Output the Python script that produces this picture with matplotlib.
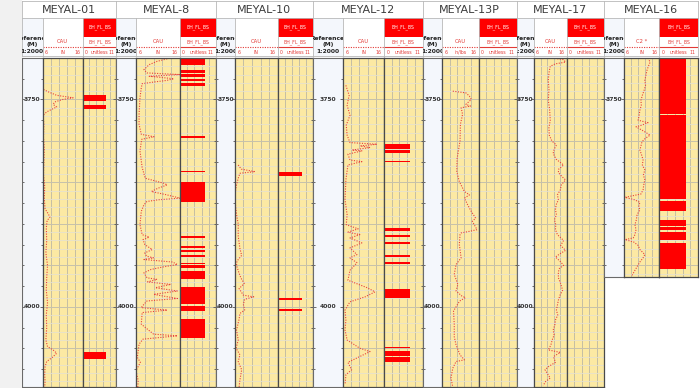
import numpy as np
import matplotlib.pyplot as plt
from matplotlib.patches import Rectangle
from matplotlib.ticker import MultipleLocator

# ---- data (depth m, caliper in) ----
wells = ['MEYAL-01', 'MEYAL-8', 'MEYAL-10', 'MEYAL-12', 'MEYAL-13P', 'MEYAL-17', 'MEYAL-16']
cau_names = ['CAU', 'CAU', 'CAU', 'CAU', 'CAU', 'CAU', 'C2 *']
cau_units = ['IN', 'IN', 'IN', 'IN', 'in/lbs', 'IN', 'IN']
well_bottom = [4097, 4097, 4097, 4097, 4097, 4097, 3964]
depth_labels = [3750, 4000]

m01_cau = [(3738, 6.2), (3741, 7.5), (3745, 9.5), (3748, 13.6), (3750, 11.0), (3753, 9.0),
           (3756, 8.6), (3759, 9.5), (3762, 8.2), (3765, 7.0), (3769, 6.1), (3780, 6.3),
           (3795, 6.2), (3810, 6.4), (3825, 6.3), (3840, 6.2), (3855, 6.5), (3870, 6.4),
           (3882, 6.6), (3888, 7.4), (3892, 7.8), (3896, 7.1), (3905, 6.9), (3920, 7.0),
           (3935, 6.8), (3950, 7.2), (3965, 7.0), (3980, 6.9), (3995, 7.2), (4010, 6.9),
           (4025, 7.0), (4040, 6.8), (4048, 7.2), (4052, 8.6), (4056, 9.5), (4061, 8.4),
           (4066, 7.0), (4072, 6.6), (4082, 6.5), (4090, 6.6), (4097, 6.5)]

m8_cau = [(3701, 13.1), (3704, 10.8), (3708, 9.0), (3714, 7.8), (3718, 8.5), (3720, 16.0),
          (3722, 9.0), (3725, 14.6), (3727, 13.0), (3729, 10.0), (3731, 7.4), (3736, 7.2),
          (3748, 6.9), (3768, 6.7), (3780, 6.7), (3792, 7.2), (3795, 10.1), (3798, 7.3),
          (3812, 6.9), (3832, 7.4), (3845, 8.1), (3851, 12.3), (3853, 13.1), (3857, 11.0),
          (3861, 9.5), (3865, 13.0), (3869, 16.0), (3871, 11.0), (3873, 8.5), (3877, 7.8),
          (3885, 7.2), (3901, 6.9), (3913, 7.4), (3916, 9.0), (3919, 7.6), (3925, 8.0),
          (3931, 9.7), (3935, 8.0), (3939, 8.4), (3941, 10.0), (3943, 7.8), (3946, 14.3),
          (3949, 15.4), (3952, 12.1), (3955, 9.4), (3959, 7.8), (3965, 8.5), (3967, 10.8),
          (3970, 8.6), (3973, 13.9), (3977, 10.4), (3981, 15.4), (3985, 10.0), (3990, 15.4),
          (3993, 8.5), (3997, 7.8), (4001, 7.2), (4004, 13.1), (4007, 7.4), (4021, 7.2),
          (4033, 10.0), (4035, 15.4), (4039, 7.6), (4045, 6.7), (4061, 6.3), (4067, 7.0),
          (4077, 6.0), (4089, 6.5), (4097, 6.4)]

m10_cau = [(3829, 6.8), (3834, 7.5), (3837, 10.7), (3839, 7.2), (3845, 6.8), (3853, 6.4),
           (3865, 6.0), (3880, 6.2), (3892, 6.5), (3900, 6.8), (3915, 6.8), (3930, 7.2),
           (3938, 7.6), (3945, 6.5), (3950, 6.4), (3958, 6.9), (3965, 7.4), (3972, 8.2),
           (3978, 7.0), (3986, 8.0), (3988, 10.4), (3991, 8.3), (3997, 8.0), (4004, 8.3),
           (4008, 7.2), (4015, 7.0), (4028, 6.4), (4040, 6.8), (4050, 6.3), (4058, 7.2),
           (4066, 6.8), (4076, 7.6), (4088, 7.2), (4097, 7.0)]

m12_cau = [(3733, 6.7), (3745, 7.5), (3757, 7.0), (3769, 7.7), (3781, 6.8), (3793, 7.0),
           (3802, 7.7), (3804, 14.3), (3806, 10.2), (3808, 12.6), (3811, 8.2), (3812, 10.6),
           (3816, 7.2), (3823, 7.7), (3825, 10.6), (3829, 7.2), (3847, 6.7), (3871, 6.5),
           (3889, 7.0), (3901, 6.8), (3906, 9.7), (3910, 7.2), (3913, 10.1), (3917, 7.7),
           (3923, 10.6), (3929, 7.7), (3937, 9.4), (3941, 7.7), (3947, 9.4), (3956, 7.7),
           (3968, 7.2), (3977, 11.9), (3982, 13.8), (3988, 11.4), (3994, 7.7), (4004, 6.5),
           (4016, 6.7), (4028, 6.5), (4040, 7.0), (4050, 10.1), (4054, 12.6), (4060, 10.1),
           (4067, 7.2), (4076, 8.1), (4082, 6.7), (4094, 6.5)]

m13p_cau = [(3740, 8.9), (3742, 12.5), (3746, 13.5), (3750, 14.0), (3756, 12.5), (3758, 13.8),
            (3760, 11.2), (3768, 11.6), (3780, 11.0), (3800, 10.9), (3821, 10.1), (3837, 10.0),
            (3849, 10.7), (3861, 12.1), (3865, 13.5), (3869, 12.1), (3877, 13.0), (3885, 14.0),
            (3893, 15.2), (3897, 14.3), (3907, 15.6), (3909, 13.5), (3911, 11.2), (3913, 10.9),
            (3925, 10.7), (3941, 11.2), (3949, 9.8), (3961, 9.3), (3973, 10.3), (3981, 9.8),
            (3987, 11.4), (3989, 12.4), (3993, 10.8), (4005, 9.1), (4021, 9.3), (4036, 9.3),
            (4046, 9.8), (4058, 10.9), (4064, 12.1), (4066, 9.8), (4074, 8.9), (4086, 8.4),
            (4097, 8.9)]

m17_cau = [(3700, 11.6), (3702, 15.1), (3705, 15.7), (3707, 12.6), (3710, 11.0), (3718, 10.6),
           (3727, 10.4), (3738, 10.6), (3751, 10.4), (3762, 10.8), (3775, 11.0), (3784, 10.6),
           (3793, 10.7), (3800, 11.5), (3805, 12.9), (3810, 12.2), (3815, 11.9), (3822, 12.8),
           (3829, 15.1), (3834, 13.6), (3838, 13.5), (3843, 14.6), (3847, 15.7), (3853, 14.4),
           (3859, 14.1), (3865, 13.2), (3871, 13.5), (3877, 12.8), (3883, 12.6), (3889, 12.9),
           (3895, 12.3), (3901, 12.7), (3907, 12.6), (3913, 13.2), (3920, 15.1), (3926, 14.2),
           (3932, 15.7), (3936, 14.0), (3940, 12.6), (3945, 14.0), (3950, 15.1), (3954, 13.8),
           (3958, 13.5), (3965, 13.5), (3972, 14.2), (3980, 14.8), (3986, 14.0), (3992, 13.5),
           (3998, 13.2), (4004, 12.9), (4010, 13.3), (4016, 12.6), (4022, 12.4), (4028, 11.9),
           (4034, 12.2), (4040, 11.6), (4046, 11.2), (4052, 10.4), (4055, 14.1), (4060, 12.0),
           (4067, 12.6), (4072, 10.5), (4076, 9.4), (4081, 10.2), (4086, 11.0), (4090, 9.6),
           (4095, 8.8)]

m16_cau = [(3700, 12.8), (3705, 13.4), (3710, 12.9), (3715, 12.5), (3721, 12.2), (3727, 11.9),
           (3733, 12.1), (3739, 11.7), (3745, 11.2), (3751, 10.8), (3757, 10.9), (3763, 10.5),
           (3769, 10.3), (3775, 10.0), (3778, 12.8), (3781, 11.0), (3783, 9.4), (3788, 11.5),
           (3793, 13.4), (3797, 12.0), (3801, 11.1), (3806, 10.8), (3811, 10.5), (3817, 11.0),
           (3823, 11.4), (3829, 11.2), (3835, 11.9), (3841, 11.5), (3847, 11.9), (3853, 11.6),
           (3859, 11.4), (3864, 10.8), (3868, 6.3), (3871, 9.0), (3874, 10.5), (3879, 10.2),
           (3883, 10.5), (3889, 9.7), (3895, 9.5), (3901, 9.1), (3907, 9.4), (3913, 9.1),
           (3917, 8.6), (3919, 6.3), (3922, 8.8), (3926, 10.0), (3931, 10.5), (3937, 11.9),
           (3941, 11.4), (3946, 10.5), (3951, 9.8), (3956, 9.1), (3962, 8.3)]

# BH_FL_BS flagged intervals (top, base)
m01_bh = [(3745, 3752), (3757, 3761), (4054, 4063)]
m8_bh = [(3700, 3708), (3715, 3718), (3719, 3723), (3725, 3728), (3730, 3734), (3794, 3796),
         (3836, 3838), (3849, 3874), (3915, 3917), (3927, 3929), (3931, 3934), (3937, 3940),
         (3947, 3949), (3950, 3953), (3957, 3967), (3976, 3997), (3999, 4005), (4015, 4038)]
m10_bh = [(3838, 3842), (3989, 3992), (4003, 4005)]
m12_bh = [(3804, 3810), (3811, 3814), (3824, 3826), (3905, 3909), (3913, 3916), (3922, 3924),
          (3938, 3940), (3946, 3949), (3978, 3989), (4048, 4050), (4053, 4059), (4061, 4067)]
m13p_bh = []
m17_bh = []
m16_bh = [(3700, 3767), (3769, 3870), (3872, 3885), (3895, 3903), (3904, 3908), (3910, 3920),
          (3923, 3954)]

cau_logs = [m01_cau, m8_cau, m10_cau, m12_cau, m13p_cau, m17_cau, m16_cau]
bh_logs = [m01_bh, m8_bh, m10_bh, m12_bh, m13p_bh, m17_bh, m16_bh]
BH_VALUE = 7.5

# ---- layout (pixels) ----
W, H = 700, 388
TOP_Y = 58
PX_PER_M = 0.8293
DEPTH_TOP = 3700
# x0, end of depth track, end of CAU track, end of BH track
well_x = [(21.5, 42.7, 82.7, 116.3), (116.3, 136.0, 180.0, 216.0),
          (216.0, 234.8, 277.7, 312.8), (312.8, 343.0, 384.0, 422.6),
          (422.6, 442.3, 478.5, 516.5), (516.5, 534.0, 566.5, 604.0),
          (604.0, 624.0, 659.3, 698.0)]

YELLOW = '#fce9a3'
DEPTH_BG = '#f4f7fc'
RED = '#ff0000'
CURVE = '#e8413c'
HDR_RED = '#e23a36'

plt.rcParams['font.family'] = ['DejaVu Sans']
fig = plt.figure(figsize=(W / 100, H / 100), dpi=100)
fig.patch.set_facecolor('white')
fig.patches.append(Rectangle((0, 0), 21.5 / W, 1, transform=fig.transFigure,
                             facecolor='#f1f1f1', edgecolor='none', zorder=0))


def px_axes(x0, y0, x1, y1, face='white', edge='#b8b8b8', lw=0.6):
    ax = fig.add_axes([x0 / W, 1 - y1 / H, (x1 - x0) / W, (y1 - y0) / H])
    ax.set_facecolor(face)
    ax.set_xticks([])
    ax.set_yticks([])
    for s in ax.spines.values():
        s.set_color(edge)
        s.set_linewidth(lw)
    return ax


for i, name in enumerate(wells):
    x0, xd, xc, x1 = well_x[i]
    bottom = well_bottom[i]
    y_end = TOP_Y + (bottom - DEPTH_TOP) * PX_PER_M

    # title cell
    ax = px_axes(x0, 1, x1, 18)
    ax.text(0.5, 0.48, name, ha='center', va='center', fontsize=8, color='#3c3c3c')

    # depth header
    ax = px_axes(x0, 18, xd, 56, face=DEPTH_BG)
    for yy, txt in [(0.45, 'Reference'), (0.31, '(M)'), (0.12, '1:2000')]:
        ax.text(0.5, yy, txt, ha='center', va='center', fontsize=4.3, fontweight='bold',
                color='#222222', clip_on=True)

    # caliper header
    ax = px_axes(xd, 18, xc, 56)
    ax.text(0.5, 0.37, cau_names[i], ha='center', va='center', fontsize=3.8, color=HDR_RED)
    ax.axhline(0.245, color=HDR_RED, lw=0.8, ls=(0, (1, 1.2)))
    ax.text(0.06, 0.1, '6', ha='left', va='center', fontsize=3.3, color=HDR_RED)
    ax.text(0.5, 0.1, cau_units[i], ha='center', va='center', fontsize=3.3, color=HDR_RED)
    ax.text(0.94, 0.1, '16', ha='right', va='center', fontsize=3.3, color=HDR_RED)

    # BH_FL_BS header
    ax = px_axes(xc, 18, x1, 56)
    ax.add_patch(Rectangle((0, 0.5), 1, 0.5, transform=ax.transAxes, facecolor=RED,
                           edgecolor='none'))
    ax.text(0.5, 0.75, 'BH_FL_BS', ha='center', va='center', fontsize=3.3, color='white')
    ax.text(0.5, 0.37, 'BH_FL_BS', ha='center', va='center', fontsize=3.3, color=HDR_RED)
    ax.axhline(0.245, color=HDR_RED, lw=0.8)
    ax.text(0.06, 0.1, '0', ha='left', va='center', fontsize=3.3, color=HDR_RED)
    ax.text(0.5, 0.1, 'unitless', ha='center', va='center', fontsize=3.3, color=HDR_RED)
    ax.text(0.94, 0.1, '11', ha='right', va='center', fontsize=3.3, color=HDR_RED)

    # depth track
    ax_d = px_axes(x0, TOP_Y, xd, y_end, face=DEPTH_BG, edge='#6a6a6a', lw=0.8)
    ax_d.set_xlim(0, 1)
    ax_d.set_ylim(bottom, DEPTH_TOP)
    ax_d.yaxis.set_major_locator(MultipleLocator(250))
    ax_d.yaxis.set_minor_locator(MultipleLocator(25))
    ax_d.tick_params(axis='y', which='both', left=True, right=True, labelleft=False,
                     direction='inout', color='#555555', width=0.6)
    ax_d.tick_params(axis='y', which='major', length=5)
    ax_d.tick_params(axis='y', which='minor', length=3)
    for d in depth_labels:
        if d < bottom:
            ax_d.text(0.5, d, str(d), transform=ax_d.get_yaxis_transform(), ha='center',
                      va='center', fontsize=4.3, fontweight='bold', color='#333333')

    # caliper track
    ax_c = px_axes(xd, TOP_Y, xc, y_end, face=YELLOW, edge='#4a4a4a', lw=0.9)
    ax_c.set_xlim(6, 16)
    ax_c.set_ylim(bottom, DEPTH_TOP)
    # BH_FL_BS track
    ax_b = px_axes(xc, TOP_Y, x1, y_end, face=YELLOW, edge='#4a4a4a', lw=0.9)
    ax_b.set_xlim(0, 11)
    ax_b.set_ylim(bottom, DEPTH_TOP)

    for ax, lo, hi in [(ax_c, 6, 16), (ax_b, 0, 11)]:
        ax.set_axisbelow(True)
        ax.set_xticks(np.linspace(lo, hi, 6))
        ax.yaxis.set_major_locator(MultipleLocator(50))
        ax.yaxis.set_minor_locator(MultipleLocator(10))
        ax.tick_params(which='both', length=0, labelleft=False, labelbottom=False)
        ax.grid(axis='y', which='minor', color='#e6e1cf', lw=0.6)
        ax.grid(axis='y', which='major', color='#c6c1ac', lw=0.7)
        ax.grid(axis='x', which='major', color='#bcb7a3', lw=0.6)

    depths = [p[0] for p in cau_logs[i]]
    values = [p[1] for p in cau_logs[i]]
    ax_c.plot(values, depths, color=CURVE, lw=0.8, ls=(0, (1, 1.3)))

    for top, base in bh_logs[i]:
        ax_b.barh(top, BH_VALUE, height=base - top, align='edge', color=RED, lw=0)

fig.savefig('out.png', dpi=100)
